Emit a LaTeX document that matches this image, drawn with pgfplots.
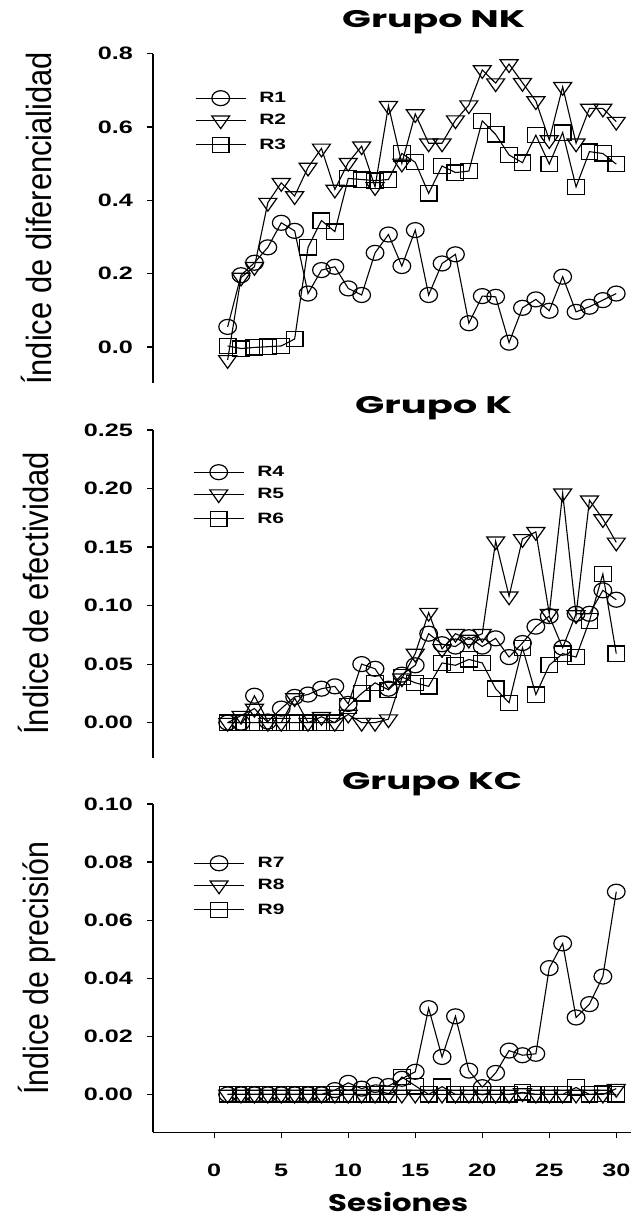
\documentclass[border=0pt]{standalone}
\usepackage{fontspec}
\usepackage{graphicx}
\usepackage{pgfplots}
\usepackage{pgfplotstable}
\pgfplotsset{compat=1.18}

\newfontfamily\tickfont{Liberation Sans}[FakeStretch=1.4]
\newfontfamily\labfont{Liberation Sans}
\newfontfamily\titlefont{Poppins}

% sesion, R1, R2, R3
\pgfplotstableread{
s   a      b      c
1   0.055  -0.035 0.003
2   0.196  0.190  -0.004
3   0.230  0.219  -0.001
4   0.272  0.394  0.001
5   0.339  0.448  0.003
6   0.317  0.412  0.022
7   0.146  0.490  0.272
8   0.210  0.542  0.345
9   0.219  0.430  0.315
10  0.160  0.503  0.460
11  0.142  0.548  0.457
12  0.257  0.437  0.454
13  0.307  0.658  0.457
14  0.221  0.501  0.528
15  0.319  0.636  0.504
16  0.142  0.556  0.419
17  0.228  0.556  0.494
18  0.253  0.619  0.476
19  0.065  0.660  0.480
20  0.139  0.756  0.617
21  0.137  0.720  0.580
22  0.012  0.772  0.524
23  0.107  0.721  0.503
24  0.130  0.671  0.578
25  0.099  0.565  0.499
26  0.192  0.710  0.585
27  0.096  0.556  0.437
28  0.110  0.651  0.533
29  0.128  0.651  0.528
30  0.146  0.615  0.499
}\grupoNK

% sesion, R4, R5, R6
\pgfplotstableread{
s   a      b      c
1   0.000  0.000  0.000
2   0.000  0.006  0.000
3   0.023  0.012  0.000
4   0.001  0.000  0.000
5   0.012  0.000  0.000
6   0.022  0.021  0.000
7   0.024  0.000  0.000
8   0.029  0.005  0.000
9   0.031  0.000  0.000
10  0.016  0.007  0.014
11  0.050  0.000  0.025
12  0.046  0.000  0.034
13  0.029  0.003  0.028
14  0.041  0.038  0.039
15  0.049  0.059  0.034
16  0.076  0.094  0.031
17  0.067  0.063  0.051
18  0.065  0.076  0.049
19  0.073  0.071  0.054
20  0.065  0.076  0.051
21  0.072  0.155  0.029
22  0.056  0.108  0.017
23  0.068  0.157  0.064
24  0.082  0.163  0.024
25  0.091  0.093  0.049
26  0.064  0.196  0.059
27  0.093  0.092  0.056
28  0.093  0.190  0.087
29  0.113  0.174  0.127
30  0.105  0.154  0.059
}\grupoK

% sesion, R7, R8, R9
\pgfplotstableread{
s   a       b       c
1   0.0000  0.0000  0.0000
2   0.0000  0.0000  0.0000
3   0.0000  0.0000  0.0000
4   0.0000  0.0000  0.0000
5   0.0000  0.0000  0.0000
6   0.0000  0.0000  0.0000
7   0.0000  0.0000  0.0000
8   0.0000  0.0000  0.0000
9   0.0015  0.0000  0.0000
10  0.0040  0.0000  0.0000
11  0.0020  0.0000  0.0000
12  0.0033  0.0000  0.0000
13  0.0029  0.0000  0.0000
14  0.0054  0.0000  0.0060
15  0.0078  0.0000  0.0030
16  0.0297  0.0000  0.0000
17  0.0129  0.0000  0.0027
18  0.0269  0.0000  0.0000
19  0.0082  0.0000  0.0000
20  0.0025  0.0000  0.0000
21  0.0074  0.0000  0.0000
22  0.0151  0.0000  0.0000
23  0.0135  0.0005  0.0007
24  0.0140  0.0000  0.0000
25  0.0435  0.0000  0.0000
26  0.0520  0.0000  0.0000
27  0.0265  0.0000  0.0024
28  0.0311  0.0000  0.0000
29  0.0406  0.0000  0.0003
30  0.0698  0.0020  0.0000
}\grupoKC

\pgfplotsset{
  panel/.style={
    scale only axis, width=478pt,
    xmin=-4.57, xmax=31.1, enlargelimits=false, clip=false,
    axis line style={-, line width=1.3pt, black},
    tick align=outside, major tick length=6pt,
    tick style={line width=1.2pt, black}, minor tick num=0,
    /pgf/number format/assume math mode=true,
    /pgf/number format/fixed, /pgf/number format/fixed zerofill,
    yticklabel style={font=\tickfont\bfseries\fontsize{18}{20}\selectfont, inner sep=0pt, anchor=east, xshift=-14pt},
    xticklabel style={font=\tickfont\bfseries\fontsize{18}{20}\selectfont, inner sep=0pt, anchor=north, yshift=-25pt},
    legend image code/.code={\draw[mark repeat=2, mark phase=2, #1] plot coordinates {(0pt,0pt) (25pt,0pt) (50pt,0pt)};},
    legend style={anchor=north west, draw=none, fill=none, inner sep=0pt,
      row sep=8.5pt, column sep=13pt, nodes={inner sep=0pt},
      font=\tickfont\bfseries\fontsize{15}{17}\selectfont},
    legend cell align=left,
  },
  ser/.style={black, line width=1.1pt},
  mcirc/.style={ser, mark=o, mark size=7.5pt, mark options={xscale=1.18, line width=1.2pt}},
  mtri/.style={ser, mark=triangle, mark size=8.5pt, mark options={rotate=180, xscale=1.22, line width=1.2pt}},
  msq/.style={ser, mark=square, mark size=7.6pt, mark options={xscale=1.1, line width=1.2pt}},
}

\begin{document}
\begin{tikzpicture}[x=1pt,y=1pt]
\useasboundingbox (0,0) rectangle (633,1222);

% Grupo NK
\begin{axis}[panel, at={(153pt,839pt)}, anchor=south west, height=329.2pt,
  axis x line=none, axis y line*=left, xtick=\empty,
  ymin=-0.098, ymax=0.8, ytick={0,0.2,0.4,0.6,0.8},
  /pgf/number format/precision=1,
  legend style={at={(0.0878,0.8885)}}]
\addplot[mcirc] table[x=s, y=a] {\grupoNK};
\addplot[mtri] table[x=s, y=b] {\grupoNK};
\addplot[msq] table[x=s, y=c] {\grupoNK};
\legend{R1,R2,R3}
\end{axis}

% Grupo K
\begin{axis}[panel, at={(153pt,464pt)}, anchor=south west, height=328pt,
  axis x line=none, axis y line*=left, xtick=\empty,
  ymin=-0.0302, ymax=0.25, ytick={0,0.05,0.10,0.15,0.20,0.25},
  /pgf/number format/precision=2,
  legend style={at={(0.0836,0.8948)}}]
\addplot[mcirc] table[x=s, y=a] {\grupoK};
\addplot[mtri] table[x=s, y=b] {\grupoK};
\addplot[msq] table[x=s, y=c] {\grupoK};
\legend{R4,R5,R6}
\end{axis}

% Grupo KC
\begin{axis}[panel, at={(153pt,89.5pt)}, anchor=south west, height=328.5pt,
  axis lines*=left,
  xtick={0,5,10,15,20,25,30},
  xticklabel style={/pgf/number format/fixed zerofill=false, /pgf/number format/precision=0},
  ymin=-0.0131, ymax=0.10, ytick={0,0.02,0.04,0.06,0.08,0.10},
  /pgf/number format/precision=2,
  legend style={at={(0.0843,0.843)}}]
\addplot[mcirc] table[x=s, y=a] {\grupoKC};
\addplot[mtri] table[x=s, y=b] {\grupoKC};
\addplot[msq] table[x=s, y=c] {\grupoKC};
\legend{R7,R8,R9}
\end{axis}

% titles
\node[anchor=base west, inner sep=0pt] at (342,1194) {\resizebox{183pt}{\height}{\titlefont\bfseries\fontsize{24}{28}\selectfont Grupo NK}};
\node[anchor=base west, inner sep=0pt] at (355,808.7) {\resizebox{157pt}{\height}{\titlefont\bfseries\fontsize{24}{28}\selectfont Grupo K}};
\node[anchor=base west, inner sep=0pt] at (342,432) {\resizebox{180pt}{\height}{\titlefont\bfseries\fontsize{24}{28}\selectfont Grupo KC}};
\node[anchor=base west, inner sep=0pt] at (328,10.3) {\resizebox{140pt}{\height}{\titlefont\bfseries\fontsize{24}{28}\selectfont Sesiones}};

% y labels
\node[rotate=90, anchor=base west, inner sep=0pt] at (51,837) {\resizebox{333pt}{\height}{\labfont\fontsize{35}{40}\selectfont Índice de diferencialidad}};
\node[rotate=90, anchor=base west, inner sep=0pt] at (48,487) {\resizebox{283pt}{\height}{\labfont\fontsize{35}{40}\selectfont Índice de efectividad}};
\node[rotate=90, anchor=base west, inner sep=0pt] at (48,127) {\resizebox{253pt}{\height}{\labfont\fontsize{35}{40}\selectfont Índice de precisión}};
\end{tikzpicture}
\end{document}
